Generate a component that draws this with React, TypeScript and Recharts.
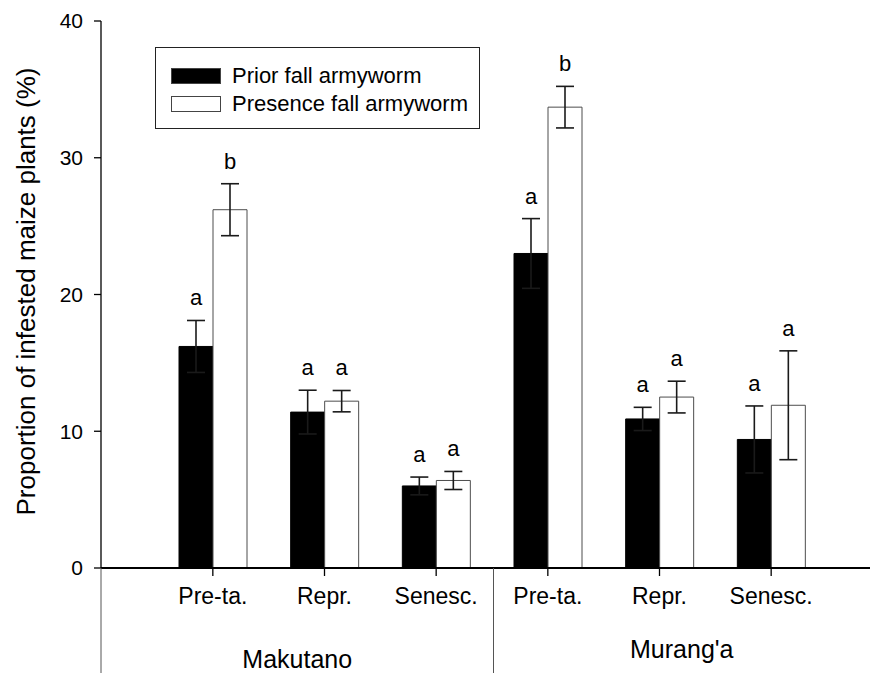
import React from 'react';
import { BarChart, Bar, XAxis, YAxis, ErrorBar, LabelList, Legend } from 'recharts';

// growth stage per column, and the site each column belongs to
const STAGES = ['Pre-ta.', 'Repr.', 'Senesc.', 'Pre-ta.', 'Repr.', 'Senesc.'];
const SITES = ['Makutano', 'Makutano', 'Makutano', "Murang'a", "Murang'a", "Murang'a"];

// % infested plants, means and standard errors
const PRIOR = [16.2, 11.4, 6.0, 23.0, 10.9, 9.4];
const PRIOR_SE = [1.9, 1.6, 0.65, 2.55, 0.85, 2.45];
const PRESENCE = [26.2, 12.2, 6.4, 33.7, 12.5, 11.9];
const PRESENCE_SE = [1.9, 0.78, 0.66, 1.52, 1.16, 3.98];

// significance letters
const PRIOR_LETTERS = ['a', 'a', 'a', 'a', 'a', 'a'];
const PRESENCE_LETTERS = ['b', 'a', 'a', 'b', 'a', 'a'];

const SERIES_NAMES = ['Prior fall armyworm', 'Presence fall armyworm'];
const Y_TICKS = [0, 10, 20, 30, 40];

const data = STAGES.map((stage, i) => ({
  stage,
  site: SITES[i],
  prior: PRIOR[i],
  priorSe: PRIOR_SE[i],
  priorLetter: PRIOR_LETTERS[i],
  presence: PRESENCE[i],
  presenceSe: PRESENCE_SE[i],
  presenceLetter: PRESENCE_LETTERS[i],
}));

const W = 870;
const H = 673;
const AXIS_X = 101;
const CAT_AXIS_H = 50;
const SITE_AXIS_H = 55;
const SITE_PAD = 16;
const SITE_BAND = (W - AXIS_X - SITE_PAD) / 2;
const SITE_DY = [0, -10];
const FONT = '"Liberation Sans", Arial, Helvetica, sans-serif';

function SiteTick(props: any) {
  const { x, y, payload, index } = props;
  const half = SITE_BAND / 2;
  const left = index === 0 ? AXIS_X : x - half;
  const right = x + half;
  return (
    <g>
      <line x1={left} x2={left} y1={y - CAT_AXIS_H} y2={H} stroke="#555" strokeWidth={1} />
      <text
        x={(left + right) / 2}
        y={y + 50 + (SITE_DY[index] ?? 0)}
        textAnchor="middle"
        fontSize={25}
        fontFamily={FONT}
        fill="#000"
      >
        {payload.value}
      </text>
    </g>
  );
}

function YLabel(props: any) {
  const vb = props.viewBox || { x: 0, y: 21, width: AXIS_X, height: 547 };
  const cx = vb.x + 35;
  const cy = vb.y + vb.height / 2 - 3;
  return (
    <text
      x={cx}
      y={cy}
      transform={`rotate(-90, ${cx}, ${cy})`}
      textAnchor="middle"
      fontSize={26}
      fontFamily={FONT}
      fill="#000"
    >
      Proportion of infested maize plants (%)
    </text>
  );
}

function LegendBox(props: any) {
  const items = (props.payload || [])
    .filter((p: any) => p.type !== 'none')
    .sort((a: any, b: any) => SERIES_NAMES.indexOf(a.value) - SERIES_NAMES.indexOf(b.value));
  return (
    <div
      style={{
        width: 325,
        height: 82,
        boxSizing: 'border-box',
        border: '1px solid #222',
        background: '#fff',
        padding: '14px 0 0 15px',
        fontFamily: FONT,
        fontSize: 22,
        color: '#000',
      }}
    >
      {items.map((item: any) => (
        <div key={item.value} style={{ display: 'flex', alignItems: 'center', height: 28 }}>
          <span
            style={{
              display: 'inline-block',
              width: 50,
              height: 16,
              boxSizing: 'border-box',
              background: item.color,
              border: '1px solid #444',
              marginRight: 11,
            }}
          />
          <span style={{ lineHeight: '28px', whiteSpace: 'nowrap' }}>{item.value}</span>
        </div>
      ))}
    </div>
  );
}

export default function App() {
  return (
    <div style={{ position: 'relative', width: W, height: H, background: '#fff' }}>
      <style>{'body{margin:0;background:#fff}'}</style>
      <BarChart
        width={W}
        height={H}
        data={data}
        margin={{ top: 21, right: 0, bottom: 0, left: 0 }}
        barGap={0}
        barSize={34}
      >
        <XAxis
          dataKey="stage"
          interval={0}
          height={CAT_AXIS_H}
          padding={{ left: 56, right: 43 }}
          axisLine={{ stroke: '#000', strokeWidth: 2 }}
          tickLine={{ stroke: '#000', strokeWidth: 1.3 }}
          tickSize={8}
          tickMargin={12}
          tick={{ fontSize: 23, fill: '#000', fontFamily: FONT }}
        />
        <XAxis
          xAxisId="site"
          dataKey="site"
          allowDuplicatedCategory={false}
          interval={0}
          height={SITE_AXIS_H}
          padding={{ left: SITE_PAD, right: 0 }}
          axisLine={false}
          tickLine={false}
          tickSize={0}
          tickMargin={0}
          tick={<SiteTick />}
        />
        <YAxis
          width={AXIS_X}
          domain={[0, 40]}
          ticks={Y_TICKS}
          interval={0}
          axisLine={{ stroke: '#000', strokeWidth: 1.3 }}
          tickLine={{ stroke: '#000', strokeWidth: 1.3 }}
          tickSize={7}
          tickMargin={11}
          tick={{ fontSize: 21, fill: '#000', fontFamily: FONT }}
          label={<YLabel />}
        />
        <Legend
          layout="vertical"
          align="center"
          verticalAlign="middle"
          wrapperStyle={{ position: 'absolute', left: 155, top: 47, width: 325, height: 82 }}
          content={<LegendBox />}
        />
        <Bar
          dataKey="prior"
          name={SERIES_NAMES[0]}
          stackId="prior"
          fill="#000000"
          stroke="#000"
          strokeWidth={1}
          isAnimationActive={false}
        >
          <ErrorBar dataKey="priorSe" width={9} stroke="#1a1a1a" strokeWidth={1.6} direction="y" />
        </Bar>
        <Bar
          dataKey="priorSe"
          stackId="prior"
          fill="none"
          stroke="none"
          legendType="none"
          isAnimationActive={false}
        >
          <LabelList
            dataKey="priorLetter"
            position="top"
            offset={15}
            fontSize={22}
            fill="#000"
            fontFamily={FONT}
          />
        </Bar>
        <Bar
          dataKey="presence"
          name={SERIES_NAMES[1]}
          stackId="presence"
          fill="#ffffff"
          stroke="#4d4d4d"
          strokeWidth={1}
          isAnimationActive={false}
        >
          <ErrorBar dataKey="presenceSe" width={9} stroke="#1a1a1a" strokeWidth={1.6} direction="y" />
        </Bar>
        <Bar
          dataKey="presenceSe"
          stackId="presence"
          fill="none"
          stroke="none"
          legendType="none"
          isAnimationActive={false}
        >
          <LabelList
            dataKey="presenceLetter"
            position="top"
            offset={15}
            fontSize={22}
            fill="#000"
            fontFamily={FONT}
          />
        </Bar>
      </BarChart>
    </div>
  );
}
